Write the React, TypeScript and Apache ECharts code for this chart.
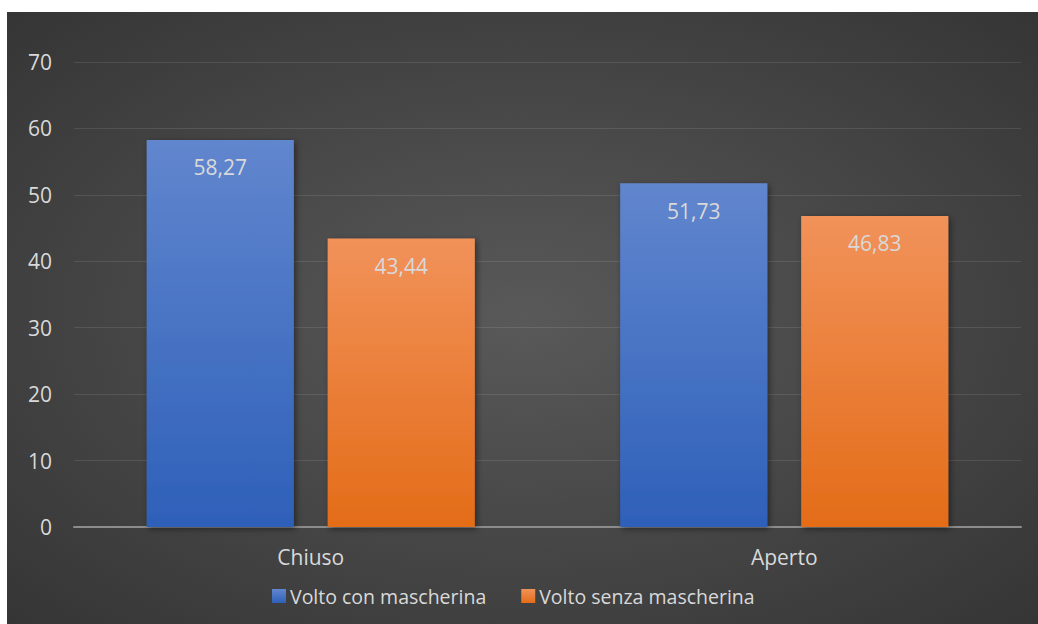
import React, { useEffect, useRef } from "react";
import * as echarts from "echarts";

const categories = ["Chiuso", "Aperto"];
const seriesNames = ["Volto con mascherina", "Volto senza mascherina"];
const withMask = [58.27, 51.73];
const withoutMask = [43.44, 46.83];
const yTicks = { min: 0, max: 70, interval: 10 };

const FONT = "'Open Sans', 'Noto Sans', sans-serif";
const TEXT = "#d9d9d9";

const fmt = (v: number) => v.toFixed(2).replace(".", ",");

export default function App() {
  const ref = useRef<HTMLDivElement>(null);
  useEffect(() => {
    document.body.style.margin = "0";
    const chart = echarts.init(ref.current!, null, { renderer: "svg" });
    const barGrad = (top: string, bottom: string) => ({
      type: "linear",
      x: 0,
      y: 0,
      x2: 0,
      y2: 1,
      colorStops: [
        { offset: 0, color: top },
        { offset: 1, color: bottom },
      ],
    });
    const label = {
      show: true,
      position: "insideTop",
      distance: 17,
      color: TEXT,
      fontFamily: FONT,
      fontSize: 21,
      formatter: (p: any) => fmt(p.value),
    };
    const shadow = {
      shadowBlur: 6,
      shadowColor: "rgba(0,0,0,0.45)",
      shadowOffsetX: 2,
      shadowOffsetY: 2,
    };
    chart.setOption({
      animation: false,
      backgroundColor: {
        type: "radial",
        x: 0.5,
        y: 0.5,
        r: 1.0,
        colorStops: [
          { offset: 0, color: "#595959" },
          { offset: 1, color: "#262626" },
        ],
      },
      textStyle: { fontFamily: FONT },
      grid: { left: 67, right: 17, top: 50, bottom: 97, containLabel: false },
      legend: {
        data: seriesNames,
        left: 260,
        top: 569,
        itemWidth: 14,
        itemHeight: 14,
        itemGap: 35,
        icon: "rect",
        textStyle: { color: TEXT, fontSize: 19.5, fontFamily: FONT, padding: [0, 0, 0, -1] },
      },
      xAxis: {
        type: "category",
        data: categories,
        axisLine: { show: true, lineStyle: { color: "#8c8c8c", width: 2 } },
        axisTick: { show: false },
        axisLabel: { color: TEXT, fontSize: 21, fontFamily: FONT, margin: 19 },
      },
      yAxis: {
        type: "value",
        min: yTicks.min,
        max: yTicks.max,
        interval: yTicks.interval,
        axisLine: { show: false },
        axisTick: { show: false },
        axisLabel: { color: TEXT, fontSize: 21, fontFamily: FONT, margin: 22 },
        splitLine: { lineStyle: { color: "rgba(255,255,255,0.1)", width: 1 } },
      },
      series: [
        {
          name: seriesNames[0],
          type: "bar",
          data: withMask,
          barGap: "23%",
          barCategoryGap: "30.7%",
          itemStyle: { color: barGrad("#6186ce", "#2e60b9"), ...shadow },
          label,
        },
        {
          name: seriesNames[1],
          type: "bar",
          data: withoutMask,
          itemStyle: { color: barGrad("#f1925a", "#e46c18"), ...shadow },
          label,
        },
      ],
    } as any);
    return () => chart.dispose();
  }, []);
  return (
    <div
      ref={ref}
      style={{ position: "absolute", left: 7, top: 12, width: 1031, height: 612 }}
    />
  );
}
